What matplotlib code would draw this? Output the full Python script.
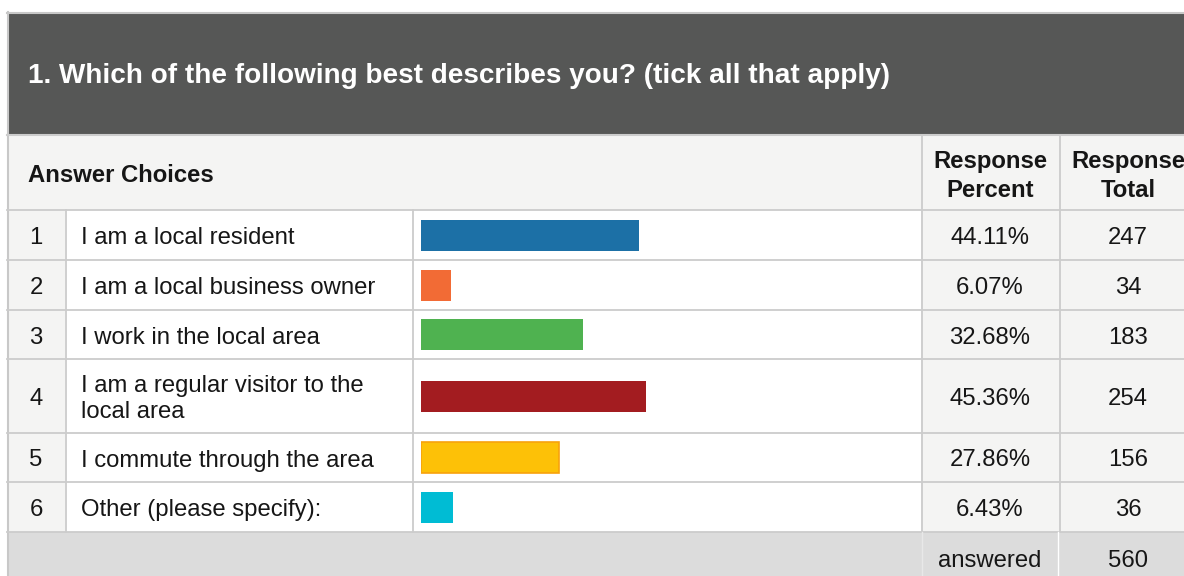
import matplotlib.pyplot as plt
from matplotlib.patches import Rectangle

plt.rcParams["font.family"] = ["Liberation Sans", "DejaVu Sans"]

# Data
TITLE = "1. Which of the following best describes you? (tick all that apply)"
row_numbers = ["1", "2", "3", "4", "5", "6"]
answer_choices = [
    "I am a local resident",
    "I am a local business owner",
    "I work in the local area",
    "I am a regular visitor to the\nlocal area",
    "I commute through the area",
    "Other (please specify):",
]
response_percent = [44.11, 6.07, 32.68, 45.36, 27.86, 6.43]
response_total = [247, 34, 183, 254, 156, 36]
answered_total = 560
bar_colors = ["#1c70a6", "#f26b35", "#4fb250", "#a31c20", "#fdc107", "#00bcd4"]
bar_edges = ["none", "none", "none", "none", "#f8a20c", "none"]

# Layout (pixels)
W, H = 1184, 576
row_edges = [210, 260, 310, 359, 433, 482, 532]
GRID = "#cccccc"
LIGHT = "#f4f4f3"
TXT = "#161616"
BODY_FS = 17.2
TITLE_FS = 20.1
LS = 1.28


def main():
    fig = plt.figure(figsize=(W / 100, H / 100), dpi=100)
    ax = fig.add_axes([0, 0, 1, 1])
    ax.set_xlim(0, W)
    ax.set_ylim(H, 0)
    ax.axis("off")

    # backgrounds
    ax.add_patch(Rectangle((7, 12), W, 122, facecolor="#565756", edgecolor="none"))
    ax.add_patch(Rectangle((7, 134), W, 76, facecolor=LIGHT, edgecolor="none"))
    ax.add_patch(Rectangle((7, 210), 58, 322, facecolor=LIGHT, edgecolor="none"))
    ax.add_patch(Rectangle((921, 210), W, 322, facecolor=LIGHT, edgecolor="none"))
    ax.add_patch(Rectangle((7, 532), W, 50, facecolor="#dcdcdc", edgecolor="none"))

    # outer border
    ax.plot([7.5, 7.5], [12, H], color="#c8c8c8", lw=1.5)
    ax.plot([7, W], [12.5, 12.5], color="#c8c8c8", lw=1.5)

    # grid lines
    ax.plot([7, W], [135, 135], color=GRID, lw=1.5)
    for y in row_edges:
        ax.plot([7, W], [y, y], color=GRID, lw=1.3)
    for x in [65.5, 412.5]:
        ax.plot([x, x], [row_edges[0], row_edges[-1]], color=GRID, lw=1.3)
    for x in [921.5, 1059.5]:
        ax.plot([x, x], [135, row_edges[-1]], color=GRID, lw=1.3)
    ax.plot([921.5, 921.5], [532, H], color="#e8e8e8", lw=1.0)
    ax.plot([1057.5, 1057.5], [532, H], color="white", lw=1.0)

    # header texts
    ax.text(28, 76, TITLE, color="white", fontsize=TITLE_FS, fontweight="bold",
            ha="left", va="center")
    ax.text(28, 176, "Answer Choices", fontsize=BODY_FS, fontweight="bold",
            ha="left", va="center", color=TXT)
    ax.text(990, 176, "Response\nPercent", fontsize=BODY_FS, fontweight="bold",
            ha="center", va="center", linespacing=LS, color=TXT)
    ax.text(1128, 176, "Response\nTotal", fontsize=BODY_FS, fontweight="bold",
            ha="center", va="center", linespacing=LS, color=TXT)

    centers = [(a + b) / 2 for a, b in zip(row_edges[:-1], row_edges[1:])]
    for i, yc in enumerate(centers):
        ax.text(36, yc + 3, row_numbers[i], fontsize=BODY_FS, ha="center",
                va="center", color=TXT)
        ax.text(81, yc + 3, answer_choices[i], fontsize=BODY_FS, ha="left",
                va="center", linespacing=LS, color=TXT)
        ax.text(990, yc + 3, f"{response_percent[i]:.2f}%", fontsize=BODY_FS,
                ha="center", va="center", color=TXT)
        ax.text(1128, yc + 3, str(response_total[i]), fontsize=BODY_FS,
                ha="center", va="center", color=TXT)

    ax.text(990, 561, "answered", fontsize=BODY_FS, ha="center", va="center",
            color=TXT)
    ax.text(1128, 561, str(answered_total), fontsize=BODY_FS, ha="center",
            va="center", color=TXT)

    # bars in their own axes, 0..100 percent
    bx = fig.add_axes([421 / W, 0, 495 / W, 1])
    bx.set_xlim(0, 100)
    bx.set_ylim(H, 0)
    bx.axis("off")
    bx.patch.set_alpha(0)
    bx.barh(centers, response_percent, height=31, color=bar_colors,
            edgecolor=bar_edges, linewidth=1.2, left=0)

    fig.savefig("out.png", dpi=100)


if __name__ == "__main__":
    main()
